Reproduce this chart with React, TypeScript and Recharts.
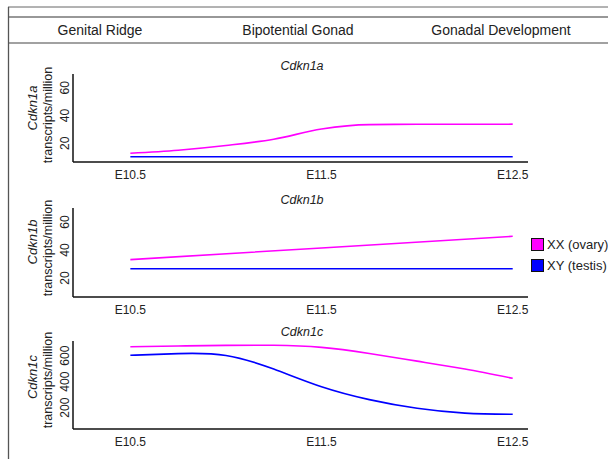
import React from "react";
import { LineChart, Line, XAxis, YAxis } from "recharts";

const stages = ["Genital Ridge", "Bipotential Gonad", "Gonadal Development"];
const stageX = [100, 298, 501];
const xTicks = [10.5, 11.5, 12.5];

const days = [10.5, 10.75, 11, 11.25, 11.5, 11.75, 12, 12.25, 12.5];
const cdkn1aXX = [12.8, 15.0, 18.4, 22.9, 30.3, 33.5, 33.7, 33.7, 33.8];
const cdkn1aXY = [10.3, 10.3, 10.3, 10.3, 10.3, 10.3, 10.3, 10.3, 10.3];

const days1b = [10.5, 11.5, 12.5];
const cdkn1bXX = [33.2, 41.5, 49.8];
const cdkn1bXY = [26.7, 26.7, 26.7];

const cdkn1cXX = [669, 675, 679, 680, 664, 617, 558, 497, 426];
const cdkn1cXY = [603, 616, 602, 497, 361, 262, 195, 158, 149];

const seriesNames = ["XX (ovary)", "XY (testis)"];
const seriesColors = ["#ff00ff", "#0000ff"];

const FONT = "'Liberation Sans', Arial, Helvetica, sans-serif";

const build = (xs: number[], a: number[], b: number[]) =>
  xs.map((d, i) => ({ day: d, xx: a[i], xy: b[i] }));

const RotTick = (props: any) => {
  const { y, payload } = props;
  return (
    <text
      x={65}
      y={y}
      transform={`rotate(-90, 65, ${y})`}
      textAnchor="middle"
      dy="0.35em"
      fontSize={12}
      fill="#222"
      fontFamily={FONT}
    >
      {payload.value}
    </text>
  );
};

type PanelProps = {
  data: any[];
  domain: [number, number];
  ticks: number[];
  plotTop: number;
  plotBottom: number;
  curve: any;
};

const Panel = ({ data, domain, ticks, plotTop, plotBottom, curve }: PanelProps) => {
  const top = plotTop - 10;
  const height = plotBottom - plotTop + 10 + 30;
  return (
    <div style={{ position: "absolute", left: 0, top }}>
      <LineChart
        width={608}
        height={height}
        data={data}
        margin={{ top: 10, right: 80, bottom: 0, left: 0 }}
      >
        <XAxis
          dataKey="day"
          type="number"
          domain={[10.2, 12.58]}
          ticks={xTicks}
          tickFormatter={(v: number) => "E" + v.toFixed(1)}
          tickLine={false}
          axisLine={{ stroke: "#111", strokeWidth: 1.5 }}
          tick={{ fontSize: 12, fill: "#222", fontFamily: FONT }}
          height={30}
          allowDataOverflow
        />
        <YAxis
          type="number"
          domain={domain}
          ticks={ticks}
          width={73}
          tickLine={false}
          axisLine={{ stroke: "#111", strokeWidth: 1.5 }}
          tick={<RotTick />}
          allowDataOverflow
        />
        <Line
          type={curve}
          dataKey="xx"
          stroke={seriesColors[0]}
          strokeWidth={1.6}
          dot={false}
          isAnimationActive={false}
        />
        <Line
          type={curve}
          dataKey="xy"
          stroke={seriesColors[1]}
          strokeWidth={1.6}
          dot={false}
          isAnimationActive={false}
        />
      </LineChart>
    </div>
  );
};

const panels = [
  { gene: "Cdkn1a", data: build(days, cdkn1aXX, cdkn1aXY), domain: [6.5, 70] as [number, number], ticks: [20, 40, 60], plotTop: 74, plotBottom: 162, titleY: 66, geneY: 108, unitY: 115, curve: "monotone" },
  { gene: "Cdkn1b", data: build(days1b, cdkn1bXX, cdkn1bXY), domain: [6.5, 70] as [number, number], ticks: [20, 40, 60], plotTop: 208, plotBottom: 297, titleY: 200, geneY: 242, unitY: 248, curve: "linear" },
  { gene: "Cdkn1c", data: build(days, cdkn1cXX, cdkn1cXY), domain: [36, 713] as [number, number], ticks: [200, 400, 600], plotTop: 341, plotBottom: 429, titleY: 332, geneY: 377, unitY: 380, curve: "natural" },
];

export default function App() {
  return (
    <div style={{ position: "absolute", left: 0, top: 0, width: 608, height: 459, background: "#fff", overflow: "hidden" }}>
      <svg width={608} height={459} style={{ position: "absolute", left: 0, top: 0 }}>
        <line x1={8} y1={7} x2={608} y2={7} stroke="#666" strokeWidth={1} />
        <line x1={8} y1={17} x2={608} y2={17} stroke="#333" strokeWidth={1.2} />
        <line x1={8} y1={43} x2={608} y2={43} stroke="#444" strokeWidth={1.2} />
        <line x1={8.5} y1={7} x2={8.5} y2={459} stroke="#555" strokeWidth={1.3} />
        {stages.map((s, i) => (
          <text key={s} x={stageX[i]} y={30} dy="0.35em" textAnchor="middle" fontSize={14} fill="#222" fontFamily={FONT}>
            {s}
          </text>
        ))}
        {panels.map((p) => (
          <g key={p.gene}>
            <text x={302} y={p.titleY} dy="0.35em" textAnchor="middle" fontSize={12.5} fontStyle="italic" fill="#222" fontFamily={FONT}>
              {p.gene}
            </text>
            <text x={32} y={p.geneY} transform={`rotate(-90, 32, ${p.geneY})`} dy="0.35em" textAnchor="middle" fontSize={13} fontStyle="italic" fill="#222" fontFamily={FONT}>
              {p.gene}
            </text>
            <text x={48} y={p.unitY} transform={`rotate(-90, 48, ${p.unitY})`} dy="0.35em" textAnchor="middle" fontSize={12.5} fill="#222" fontFamily={FONT}>
              transcripts/million
            </text>
          </g>
        ))}
        {seriesNames.map((n, i) => (
          <g key={n}>
            <rect x={531.5} y={238.5 + i * 21} width={12} height={12} fill={seriesColors[i]} stroke="#111" strokeWidth={1} />
            <text x={547} y={244.5 + i * 21} dy="0.35em" fontSize={13} fill="#222" fontFamily={FONT}>
              {n}
            </text>
          </g>
        ))}
      </svg>
      {panels.map((p) => (
        <Panel key={p.gene} data={p.data} domain={p.domain} ticks={p.ticks} plotTop={p.plotTop} plotBottom={p.plotBottom} curve={p.curve} />
      ))}
    </div>
  );
}
